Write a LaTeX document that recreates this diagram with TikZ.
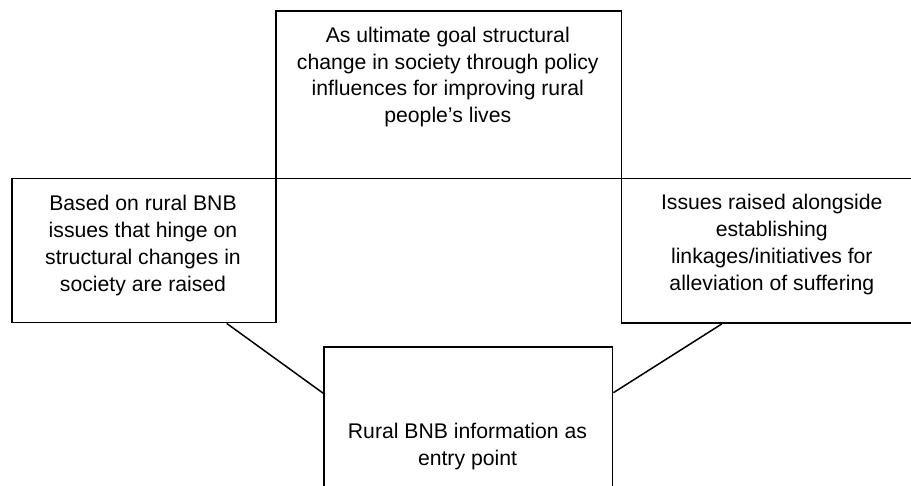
\documentclass[tikz,border=0pt]{standalone}
\usepackage{fontspec}
\setmainfont{Liberation Sans}
\begin{document}
\begin{tikzpicture}[x=1pt,y=-1pt,
  boxnode/.style={draw=black,line width=1.7pt,inner sep=0pt,anchor=north west,rectangle},
  txt/.style={inner sep=0pt,align=center,anchor=base,font=\fontsize{21.2}{26.7}\selectfont},
  conn/.style={draw=black,line width=1.5pt}]
\useasboundingbox (0,0) rectangle (911,485);
\clip (0,0) rectangle (911,485);
% boxes
\node[boxnode,minimum width=345.7pt,minimum height=167.7pt] (T) at (275,10) {};
\node[boxnode,minimum width=264pt,minimum height=144pt] (L) at (11,177.7) {};
\node[boxnode,minimum width=302.3pt,minimum height=144.6pt] (R) at (620.7,177.7) {};
\node[boxnode,minimum width=288.4pt,minimum height=160pt] (B) at (323.3,346) {};
% texts (anchor = baseline of last line)
\node[txt] (Tt) at (447.8,122.4) {As ultimate goal structural\\change in society through policy\\influences for improving rural\\people’s lives};
\node[txt] (Lt) at (143,291) {Based on rural BNB\\issues that hinge on\\structural changes in\\society are raised};
\node[txt] (Rt) at (771.8,290) {Issues raised alongside\\establishing\\linkages/initiatives for\\alleviation of suffering};
\node[txt] (Bt) at (467.5,465) {Rural BNB information as\\entry point};
% connectors
\draw[conn] ([xshift=215.7pt]L.south west) -- ([yshift=-47.3pt]B.north west);
\draw[conn] ([xshift=101pt]R.south west) -- ([yshift=-46.7pt]B.north east);
\end{tikzpicture}
\end{document}
